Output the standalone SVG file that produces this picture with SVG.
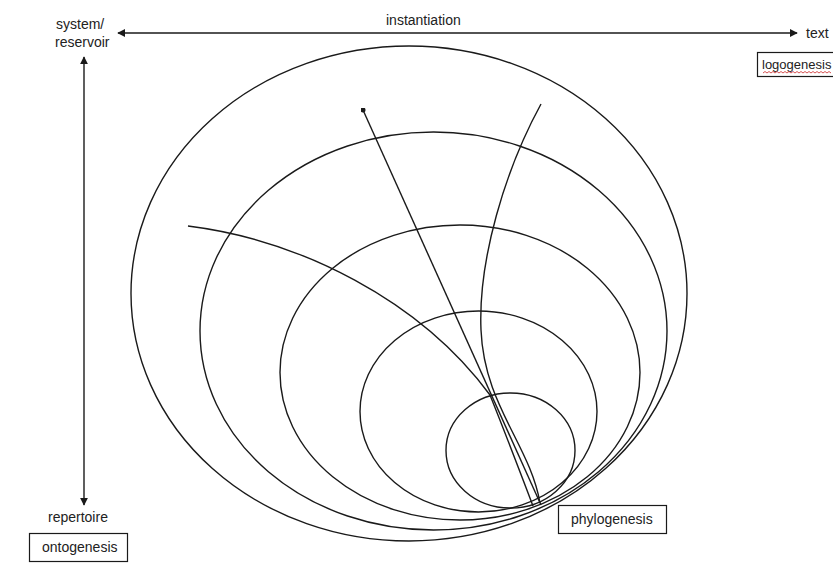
<svg xmlns="http://www.w3.org/2000/svg" width="833" height="584" viewBox="0 0 833 584">
  <defs>
    <marker id="arr" viewBox="0 0 10 10" refX="9" refY="5" markerWidth="8" markerHeight="8" markerUnits="userSpaceOnUse" orient="auto-start-reverse">
      <path d="M0,0 L10,5 L0,10 z" fill="#1a1a1a"/>
    </marker>
    <marker id="dot" viewBox="0 0 10 10" refX="5" refY="5" markerWidth="5" markerHeight="5" markerUnits="userSpaceOnUse">
      <circle cx="5" cy="5" r="5" fill="#1a1a1a"/>
    </marker>
  </defs>
  <style>
    .ln { fill: none; stroke: #1a1a1a; stroke-width: 1.4; }
    .ell { fill: none; stroke: #1a1a1a; stroke-width: 1.4; }
    .box { fill: #ffffff; stroke: #1a1a1a; stroke-width: 1.2; }
    .t { font-family: "Liberation Sans", Arial, sans-serif; font-size: 14px; fill: #222; }
    .sq { fill: none; stroke: #d04040; stroke-width: 0.9; }
  </style>
  <rect x="0" y="0" width="833" height="584" fill="#ffffff"/>

  <g id="circles">
    <ellipse id="c1" class="ell" cx="409" cy="293.5" rx="278" ry="247.5"/>
    <ellipse id="c2" class="ell" cx="433.5" cy="331" rx="233.5" ry="199"/>
    <ellipse id="c3" class="ell" cx="460" cy="372.5" rx="180" ry="147.5"/>
    <ellipse id="c4" class="ell" cx="478.5" cy="411.5" rx="118.5" ry="100.5"/>
    <ellipse id="c5" class="ell" cx="510.5" cy="450.5" rx="64.5" ry="57.5"/>
  </g>

  <g id="connectors">
    <line class="ln" x1="118" y1="33" x2="797" y2="33" marker-start="url(#arr)" marker-end="url(#arr)"/>
    <line class="ln" x1="84" y1="57" x2="84" y2="505" marker-start="url(#arr)" marker-end="url(#arr)"/>
    <path class="ln" d="M363,110 L541,505" marker-start="url(#dot)"/>
    <path class="ln" d="M541,104 C505,170 478,260 481,330 C484,405 530,445 540,503"/>
    <path class="ln" d="M188,226 C300,240 420,300 490,395 Q508,440 533,506"/>
  </g>

  <g id="system">
    <text class="t" x="56" y="29">system/</text>
    <text class="t" x="55" y="47">reservoir</text>
  </g>
  <g id="instantiation">
    <text class="t" x="386" y="25">instantiation</text>
  </g>
  <g id="text-label">
    <text class="t" x="806" y="38">text</text>
  </g>
  <g id="logogenesis">
    <rect class="box" x="757.5" y="52.5" width="80" height="24"/>
    <text class="t" x="762" y="69" style="font-size:13px">logogenesis</text>
    <path class="sq" d="M763,73 l2,-1.5 l2,1.5 l2,-1.5 l2,1.5 l2,-1.5 l2,1.5 l2,-1.5 l2,1.5 l2,-1.5 l2,1.5 l2,-1.5 l2,1.5 l2,-1.5 l2,1.5 l2,-1.5 l2,1.5 l2,-1.5 l2,1.5 l2,-1.5 l2,1.5 l2,-1.5 l2,1.5 l2,-1.5 l2,1.5 l2,-1.5 l2,1.5 l2,-1.5 l2,1.5 l2,-1.5 l2,1.5 l2,-1.5 l2,1.5 l2,-1.5 l2,1.5"/>
  </g>
  <g id="repertoire">
    <text class="t" x="48" y="522">repertoire</text>
  </g>
  <g id="ontogenesis">
    <rect class="box" x="29.5" y="533.5" width="98" height="28"/>
    <text class="t" x="42" y="552">ontogenesis</text>
  </g>
  <g id="phylogenesis">
    <rect class="box" x="558.5" y="505.5" width="108" height="28"/>
    <text class="t" x="571" y="524">phylogenesis</text>
  </g>
</svg>
